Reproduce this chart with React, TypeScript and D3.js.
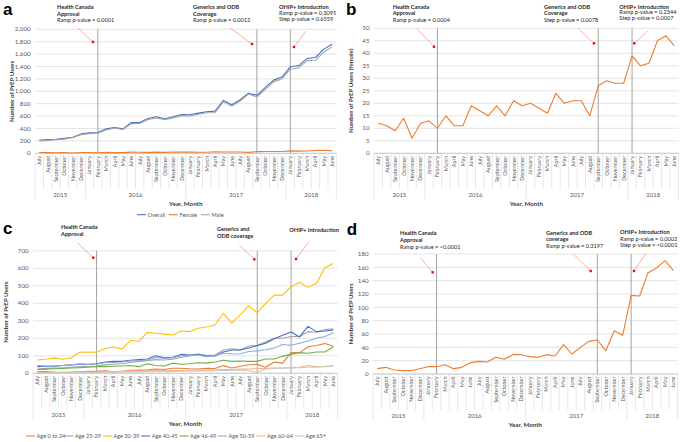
import { useEffect, useRef } from "react";
import { scaleBand, scaleLinear, line as d3Line, select, range, format, cumsum } from "d3";

// July 2015 .. June 2018
const monthLabels = [
  "July", "August", "September", "October", "November", "December",
  "January", "February", "March", "April", "May", "June",
  "July", "August", "September", "October", "November", "December",
  "January", "February", "March", "April", "May", "June",
  "July", "August", "September", "October", "November", "December",
  "January", "February", "March", "April", "May", "June",
];
const yearLabels = ["2015", "2016", "2017", "2018"];
const yearSpans = [6, 12, 12, 6];

// Health Canada approval (Feb 2016), generics + ODB (Sep 2017), OHIP+ (Jan 2018)
const eventMonths = [7, 26, 30];

const overallUsers = [211, 220, 227, 243, 260, 313, 330, 335, 394, 416, 394, 497, 497, 561, 589, 556, 589, 627, 622, 648, 670, 681, 853, 783, 864, 970, 935, 1060, 1180, 1230, 1395, 1415, 1530, 1545, 1680, 1760];
const femaleUsers = [12, 11, 9, 14, 6, 12, 13, 10, 15, 11, 11, 19, 17, 15, 19, 15, 21, 19, 20, 18, 16, 24, 20, 21, 21, 15, 27, 29, 28, 28, 39, 35, 36, 45, 47, 43];
const maleUsers = [199, 209, 218, 229, 254, 301, 317, 325, 379, 405, 383, 478, 480, 546, 570, 541, 568, 608, 602, 630, 654, 657, 833, 762, 843, 955, 908, 1031, 1152, 1202, 1356, 1380, 1494, 1500, 1633, 1717];

const age0to24 = [8, 10, 6, 5, 5, 8, 11, 11, 14, 8, 10, 17, 19, 18, 25, 22, 29, 29, 26, 25, 29, 27, 44, 30, 40, 49, 51, 35, 65, 58, 118, 117, 152, 159, 170, 155];
const age25to29 = [25, 28, 30, 30, 35, 38, 40, 42, 48, 52, 55, 62, 68, 72, 78, 76, 80, 92, 99, 110, 101, 105, 133, 140, 133, 156, 160, 180, 200, 200, 210, 210, 238, 235, 250, 255];
const age30to39 = [76, 80, 88, 80, 88, 120, 122, 120, 142, 150, 138, 187, 183, 234, 229, 224, 219, 242, 238, 257, 265, 276, 343, 288, 335, 385, 346, 400, 447, 447, 495, 520, 491, 514, 603, 628];
const age40to45 = [38, 40, 40, 45, 48, 52, 52, 55, 65, 68, 68, 75, 78, 82, 100, 88, 92, 108, 105, 109, 99, 99, 122, 133, 133, 145, 158, 172, 198, 218, 236, 208, 268, 238, 242, 248];
const age46to49 = [22, 24, 26, 28, 30, 32, 35, 38, 38, 40, 42, 45, 38, 55, 45, 42, 58, 52, 55, 60, 58, 65, 75, 68, 70, 68, 68, 82, 82, 98, 108, 118, 115, 122, 122, 152];
const age50to59 = [45, 42, 42, 45, 48, 55, 50, 52, 60, 62, 65, 70, 72, 75, 90, 85, 88, 100, 102, 105, 95, 100, 115, 110, 112, 125, 128, 135, 145, 165, 160, 172, 185, 200, 210, 232];
const age60to64 = [5, 5, 6, 6, 7, 8, 8, 9, 10, 10, 11, 12, 12, 14, 15, 14, 16, 16, 17, 18, 18, 20, 22, 22, 24, 25, 26, 28, 30, 30, 32, 35, 45, 38, 40, 45];
const age65plus = [2, 2, 3, 3, 3, 4, 4, 5, 6, 6, 7, 8, 8, 9, 10, 10, 11, 12, 12, 13, 14, 15, 16, 17, 18, 15, 5, 25, 28, 30, 30, 32, 35, 35, 38, 40];

const sexNames = ["Overall", "Female", "Male"];
const ageNames = ["Age 0 to 24", "Age 25-29", "Age 30-39", "Age 40-45", "Age 46-49", "Age 50-59", "Age 60-64", "Age 65+"];

const notesA = [
  ["Health Canada", "Approval", "Ramp p-value = 0.0001"],
  ["Generics and ODB", "Coverage", "Ramp p-value = 0.0012"],
  ["OHIP+ Introduction", "Ramp p-value = 0.3095", "Step p-value = 0.6559"],
];
const notesB = [
  ["Health Canada", "Approval", "Ramp p-value = 0.0004"],
  ["Generics and ODB", "Coverage", "Step p-value = 0.0078"],
  ["OHIP+ Introduction", "Ramp p-value = 0.2344", "Step p-value = 0.0007"],
];
const notesC = [
  ["Health Canada", "Approval"],
  ["Generics and", "ODB coverage"],
  ["OHIP+ Introduction"],
];
const notesD = [
  ["Health Canada", "Approval", "Ramp p-value = <0.0001"],
  ["Generics and ODB", "coverage", "Ramp p-value = 0.3197"],
  ["OHIP+ Introduction", "Ramp p-value = 0.0002", "Step p-value = <0.0001"],
];

type Series = { name: string; values: number[]; color: string };
type NoteBox = { x: number; y: number[]; bold: number };
type Panel = {
  letter: string;
  letterX: number;
  letterY: number;
  left: number;
  right: number;
  top: number;
  bottom: number;
  yMax: number;
  yStep: number;
  yTitle: string;
  yTitleX: number;
  series: Series[];
  notes: string[][];
  boxes: NoteBox[];
  arrows: [number, number, number, number][];
  legendX?: number;
  legendY?: number;
  legendStep?: number;
};

const FONT = "Lato, 'Open Sans', sans-serif";

const panels: Panel[] = [
  {
    letter: "a", letterX: 3, letterY: 15,
    left: 35.1, right: 336.4, top: 29.3, bottom: 153.3,
    yMax: 2000, yStep: 200,
    yTitle: "Number of PrEP Users", yTitleX: 11.7,
    series: [
      { name: sexNames[0], values: overallUsers, color: "#4472c4" },
      { name: sexNames[1], values: femaleUsers, color: "#ed7d31" },
      { name: sexNames[2], values: maleUsers, color: "#a5a5a5" },
    ],
    notes: notesA,
    boxes: [
      { x: 57, y: [9, 15.7, 22.3], bold: 2 },
      { x: 193, y: [9, 15.7, 22.3], bold: 2 },
      { x: 279, y: [9, 15.2, 21.4], bold: 1 },
    ],
    arrows: [[78, 28, 93, 42], [230, 28, 252, 44], [306, 31, 294, 47]],
    legendX: 137, legendY: 214.7, legendStep: 32,
  },
  {
    letter: "b", letterX: 346, letterY: 15,
    left: 374, right: 678.6, top: 28.3, bottom: 153.3,
    yMax: 50, yStep: 5,
    yTitle: "Number of PrEP Users (female)", yTitleX: 350.5,
    series: [{ name: sexNames[1], values: femaleUsers, color: "#ed7d31" }],
    notes: notesB,
    boxes: [
      { x: 392.7, y: [8.7, 15.3, 22], bold: 2 },
      { x: 544, y: [8.7, 15.3, 22], bold: 2 },
      { x: 619.3, y: [8.5, 14.4, 20.2], bold: 1 },
    ],
    arrows: [[416.7, 28.3, 434, 46.7], [578.7, 29, 594, 43.3], [648.3, 30.7, 634.3, 43.3]],
  },
  {
    letter: "c", letterX: 3, letterY: 234,
    left: 33.1, right: 337.6, top: 250.8, bottom: 373.3,
    yMax: 700, yStep: 100,
    yTitle: "Number of PrEP Users", yTitleX: 6.3,
    series: [
      { name: ageNames[0], values: age0to24, color: "#ed7d31" },
      { name: ageNames[1], values: age25to29, color: "#a5a5a5" },
      { name: ageNames[2], values: age30to39, color: "#ffc000" },
      { name: ageNames[3], values: age40to45, color: "#4472c4" },
      { name: ageNames[4], values: age46to49, color: "#70ad47" },
      { name: ageNames[5], values: age50to59, color: "#8faadc" },
      { name: ageNames[6], values: age60to64, color: "#f4b183" },
      { name: ageNames[7], values: age65plus, color: "#c9c9c9" },
    ],
    notes: notesC,
    boxes: [
      { x: 61, y: [229, 235.7], bold: 2 },
      { x: 217, y: [231, 238.3], bold: 2 },
      { x: 289.3, y: [232], bold: 1 },
    ],
    arrows: [[77.3, 242.7, 93.3, 257.7], [239.3, 245, 254.3, 259.3], [309, 241.7, 296, 259]],
    legendX: 26, legendY: 436, legendStep: 38.4,
  },
  {
    letter: "d", letterX: 346.7, letterY: 235,
    left: 373.1, right: 677.7, top: 254, bottom: 374,
    yMax: 180, yStep: 20,
    yTitle: "Number of PrEP Users", yTitleX: 351.3,
    series: [{ name: ageNames[0], values: age0to24, color: "#ed7d31" }],
    notes: notesD,
    boxes: [
      { x: 400, y: [235.3, 241.5, 248.7], bold: 2 },
      { x: 546, y: [234.7, 241, 248.3], bold: 2 },
      { x: 620, y: [234, 240.5, 247], bold: 1 },
    ],
    arrows: [[420, 257.3, 432.7, 272.3], [573.3, 254, 590.7, 271], [646, 253.3, 634, 271]],
  },
];

function drawPanel(root: any, p: Panel) {
  const g = root.append("g");
  const n = monthLabels.length;
  const x = scaleBand<number>().domain(range(n)).range([p.left, p.right]);
  const cx = (i: number) => (x(i) as number) + x.bandwidth() / 2;
  const edge = (i: number) => (i >= n ? p.right : (x(i) as number));
  const y = scaleLinear().domain([0, p.yMax]).range([p.bottom, p.top]);
  const ticks = range(0, p.yMax + p.yStep / 2, p.yStep);
  const fmt = format(",");

  // gridlines
  g.selectAll("line.grid")
    .data(ticks)
    .enter()
    .append("line")
    .attr("x1", p.left)
    .attr("x2", p.right)
    .attr("y1", (d: number) => y(d))
    .attr("y2", (d: number) => y(d))
    .attr("stroke", "#d9d9d9")
    .attr("stroke-width", 0.7);

  g.selectAll("text.ytick")
    .data(ticks)
    .enter()
    .append("text")
    .attr("x", p.left - 4.5)
    .attr("y", (d: number) => y(d))
    .attr("dy", "0.35em")
    .attr("text-anchor", "end")
    .attr("font-size", 6.2)
    .attr("fill", "#595959")
    .text((d: number) => fmt(d));

  // month separators and year separators
  g.selectAll("line.mtick")
    .data(range(n + 1))
    .enter()
    .append("line")
    .attr("x1", (i: number) => edge(i))
    .attr("x2", (i: number) => edge(i))
    .attr("y1", p.bottom)
    .attr("y2", p.bottom + 36)
    .attr("stroke", "#d9d9d9")
    .attr("stroke-width", 0.6);

  const bounds = [0, ...Array.from(cumsum(yearSpans))];
  g.selectAll("line.ytickYear")
    .data(bounds)
    .enter()
    .append("line")
    .attr("x1", (i: number) => edge(i))
    .attr("x2", (i: number) => edge(i))
    .attr("y1", p.bottom + 36)
    .attr("y2", p.bottom + 46)
    .attr("stroke", "#d9d9d9")
    .attr("stroke-width", 0.6);

  g.selectAll("text.month")
    .data(monthLabels)
    .enter()
    .append("text")
    .attr("transform", (_d: string, i: number) => `translate(${cx(i)},${p.bottom + 2.5}) rotate(-90)`)
    .attr("text-anchor", "end")
    .attr("dy", "0.35em")
    .attr("font-size", 5.5)
    .attr("fill", "#595959")
    .text((d: string) => d);

  g.selectAll("text.year")
    .data(yearLabels)
    .enter()
    .append("text")
    .attr("x", (_d: string, i: number) => (edge(bounds[i]) + edge(bounds[i + 1])) / 2)
    .attr("y", p.bottom + 41.5)
    .attr("dy", "0.35em")
    .attr("text-anchor", "middle")
    .attr("font-size", 6)
    .attr("fill", "#595959")
    .text((d: string) => d);

  g.append("text")
    .attr("x", (p.left + p.right) / 2)
    .attr("y", p.bottom + 51)
    .attr("dy", "0.35em")
    .attr("text-anchor", "middle")
    .attr("font-size", 6.2)
    .attr("font-weight", "bold")
    .attr("fill", "#404040")
    .text("Year, Month");

  g.append("text")
    .attr("transform", `translate(${p.yTitleX},${(p.top + p.bottom) / 2}) rotate(-90)`)
    .attr("text-anchor", "middle")
    .attr("dy", "0.35em")
    .attr("font-size", 6.2)
    .attr("font-weight", "bold")
    .attr("fill", "#404040")
    .text(p.yTitle);

  // axis line
  g.append("line")
    .attr("x1", p.left)
    .attr("x2", p.right)
    .attr("y1", p.bottom)
    .attr("y2", p.bottom)
    .attr("stroke", "#bfbfbf")
    .attr("stroke-width", 0.7);

  // event lines
  g.selectAll("line.event")
    .data(eventMonths)
    .enter()
    .append("line")
    .attr("x1", (i: number) => cx(i))
    .attr("x2", (i: number) => cx(i))
    .attr("y1", y(p.yMax))
    .attr("y2", p.bottom)
    .attr("stroke", "#9a9a9a")
    .attr("stroke-width", 0.9);

  const lineGen = d3Line<number>()
    .x((_d, i) => cx(i))
    .y((d) => y(d));

  p.series.forEach((s) => {
    g.append("path")
      .attr("d", lineGen(s.values))
      .attr("fill", "none")
      .attr("stroke", s.color)
      .attr("stroke-width", 1.1)
      .attr("stroke-linejoin", "round");
  });

  // annotations
  p.notes.forEach((lines, k) => {
    const box = p.boxes[k];
    lines.forEach((t, j) => {
      g.append("text")
        .attr("x", box.x)
        .attr("y", box.y[j])
        .attr("font-size", 5.6)
        .attr("font-weight", j < box.bold ? "bold" : "normal")
        .attr("fill", "#262626")
        .text(t);
    });
  });

  p.arrows.forEach(([x0, y0, x1, y1]) => {
    g.append("line")
      .attr("x1", x0)
      .attr("y1", y0)
      .attr("x2", x1)
      .attr("y2", y1)
      .attr("stroke", "#ff5a5a")
      .attr("stroke-width", 0.5);
    g.append("rect")
      .attr("x", x1 - 1.2)
      .attr("y", y1 - 1.2)
      .attr("width", 2.4)
      .attr("height", 2.4)
      .attr("fill", "#ff0000");
  });

  g.append("text")
    .attr("x", p.letterX)
    .attr("y", p.letterY)
    .attr("font-family", "'Liberation Sans', Arial, sans-serif")
    .attr("font-size", 17)
    .attr("font-weight", "bold")
    .attr("fill", "#000")
    .text(p.letter);

  if (p.legendX != null && p.legendY != null && p.legendStep != null) {
    const leg = g.selectAll("g.legend")
      .data(p.series)
      .enter()
      .append("g")
      .attr("transform", (_d: Series, i: number) => `translate(${p.legendX! + i * p.legendStep!},${p.legendY})`);
    leg.append("line")
      .attr("x1", 0)
      .attr("x2", 9)
      .attr("stroke", (d: Series) => d.color)
      .attr("stroke-width", 1.1);
    leg.append("text")
      .attr("x", 10.5)
      .attr("dy", "0.35em")
      .attr("font-size", 5.6)
      .attr("fill", "#595959")
      .text((d: Series) => d.name);
  }
}

export default function App() {
  const svgRef = useRef<SVGSVGElement | null>(null);

  useEffect(() => {
    if (!svgRef.current) return;
    const svg = select(svgRef.current);
    svg.selectAll("*").remove();
    svg.append("rect").attr("width", 684).attr("height", 442).attr("fill", "#fff");
    panels.forEach((p) => drawPanel(svg, p));
  }, []);

  return (
    <svg
      ref={svgRef}
      width={684}
      height={442}
      fontFamily={FONT}
      style={{ position: "absolute", left: 0, top: 0 }}
    />
  );
}
